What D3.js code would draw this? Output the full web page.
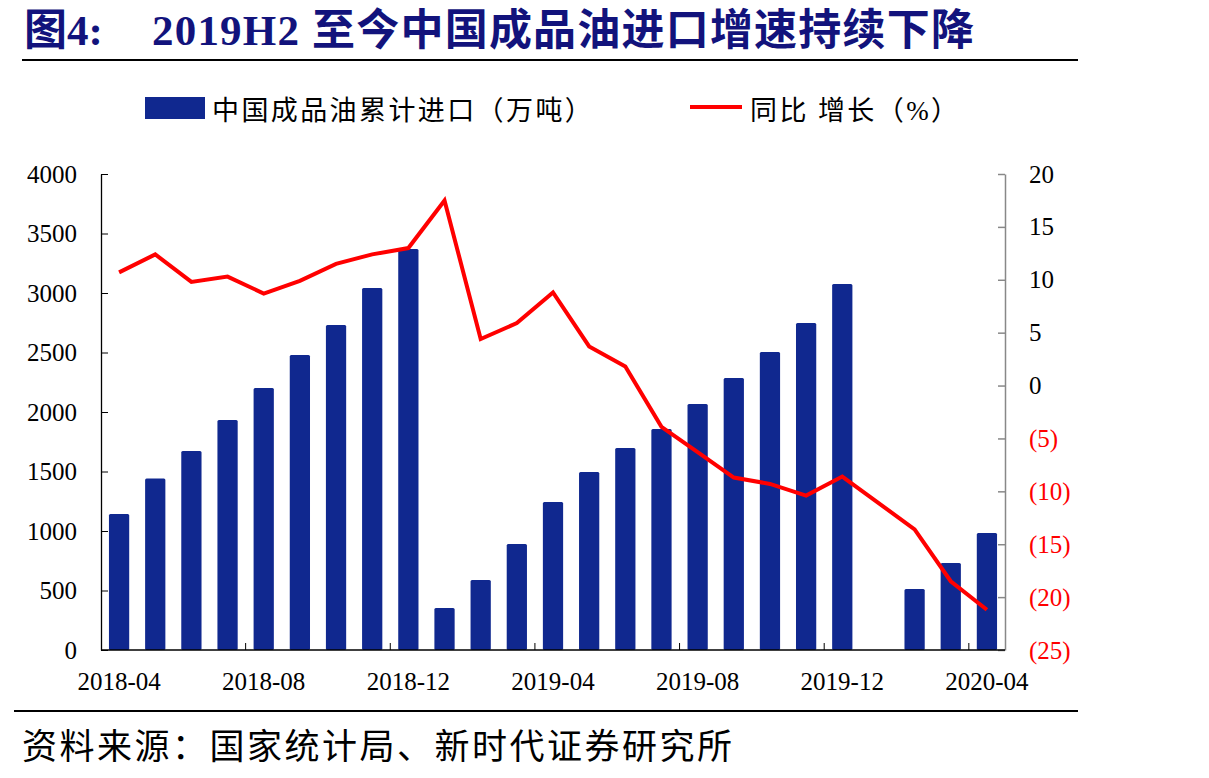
<!DOCTYPE html>
<html>
<head>
<meta charset="utf-8">
<script src="https://cdn.jsdelivr.net/npm/d3@7"></script>
<style>
  body { margin: 0; background: #fff; }
  svg text { font-family: "Liberation Serif", "Noto Sans CJK SC", serif; }
</style>
</head>
<body>
<svg id="chart" width="1209" height="778"></svg>
<script>
// months on the x axis
var months = ["2018-04","2018-05","2018-06","2018-07","2018-08","2018-09","2018-10","2018-11","2018-12",
              "2019-01","2019-02","2019-03","2019-04","2019-05","2019-06","2019-07","2019-08","2019-09",
              "2019-10","2019-11","2019-12","2020-01","2020-02","2020-03","2020-04"];
// cumulative imports (10k tonnes)
var imports = [1143, 1442, 1672, 1933, 2202, 2479, 2731, 3042, 3370,
               353, 588, 890, 1244, 1496, 1697, 1857, 2067, 2286,
               2504, 2748, 3076, null, 513, 731, 983];
// yoy growth (%)
var growth = [10.7, 12.4, 9.8, 10.3, 8.7, 9.9, 11.5, 12.4, 13.0,
              17.5, 4.4, 5.9, 8.8, 3.7, 1.8, -3.9, -6.3, -8.7,
              -9.3, -10.4, -8.6, null, -13.6, -18.5, -21.2];
var xTickLabels = ["2018-04","2018-08","2018-12","2019-04","2019-08","2019-12","2020-04"];
var leftTicks = [0, 500, 1000, 1500, 2000, 2500, 3000, 3500, 4000];
var rightTicks = [-25, -20, -15, -10, -5, 0, 5, 10, 15, 20];

var svg = d3.select("#chart");
var margin = {top: 174, left: 101, right: 204, bottom: 128};
var W = 1209 - margin.left - margin.right,
    H = 778 - margin.top - margin.bottom;

var x = d3.scaleBand().domain(months).range([0, W]).paddingInner(0.44).paddingOuter(0.22);
var yL = d3.scaleLinear().domain([0, 4000]).range([H, 0]);
var yR = d3.scaleLinear().domain([-25, 20]).range([H, 0]);

// title
var title = svg.append("text").attr("x", 24).attr("y", 45)
    .style("font-size", "43px").style("font-weight", "bold").attr("fill", "#12137c");
title.append("tspan").text("图4:");
title.append("tspan").attr("x", 152).style("letter-spacing", "1.2px").text("2019H2 至今中国成品油进口增速持续下降");

svg.append("line").attr("x1", 22).attr("x2", 1078).attr("y1", 60).attr("y2", 60)
    .attr("stroke", "#000").attr("stroke-width", 2);
svg.append("line").attr("x1", 14).attr("x2", 1078).attr("y1", 711).attr("y2", 711)
    .attr("stroke", "#000").attr("stroke-width", 2);

// legend
var leg = svg.append("g");
leg.append("rect").attr("x", 145).attr("y", 97).attr("width", 60).attr("height", 22).attr("fill", "#10288f");
leg.append("text").attr("x", 212).attr("y", 120).style("font-size", "27px").style("letter-spacing", "2.4px")
    .text("中国成品油累计进口（万吨）");
leg.append("line").attr("x1", 690).attr("x2", 742).attr("y1", 107).attr("y2", 107)
    .attr("stroke", "#ff0000").attr("stroke-width", 4);
leg.append("text").attr("x", 750).attr("y", 120).style("font-size", "27px").style("letter-spacing", "2.4px")
    .text("同比 增长（%）");

// source
svg.append("text").attr("x", 22).attr("y", 759).style("font-size", "35px").style("letter-spacing", "2.5px")
    .text("资料来源：国家统计局、新时代证券研究所");

var g = svg.append("g").attr("transform", "translate(" + margin.left + "," + margin.top + ")");

// bars
g.selectAll(".bar")
    .data(months.map(function(m, i) { return {m: m, v: imports[i]}; }).filter(function(d) { return d.v != null; }))
    .enter().append("rect")
    .attr("class", "bar")
    .attr("x", function(d) { return x(d.m); })
    .attr("y", function(d) { return yL(d.v); })
    .attr("width", x.bandwidth())
    .attr("height", function(d) { return H - yL(d.v); })
    .attr("rx", 1.5)
    .attr("fill", "#10288f");

// line (gap month skipped, line connects across)
var lineData = months.map(function(m, i) { return {m: m, v: growth[i]}; }).filter(function(d) { return d.v != null; });
var line = d3.line()
    .x(function(d) { return x(d.m) + x.bandwidth() / 2; })
    .y(function(d) { return yR(d.v); });
g.append("path").datum(lineData)
    .attr("d", line)
    .attr("fill", "none")
    .attr("stroke", "#ff0000")
    .attr("stroke-width", 4)
    .attr("stroke-linejoin", "miter");

// left axis
var axL = g.append("g").call(d3.axisLeft(yL).tickValues(leftTicks).tickFormat(d3.format("d"))
    .tickSizeInner(-7).tickSizeOuter(0).tickPadding(24));
axL.select(".domain").attr("stroke", "#000").attr("stroke-width", 1.3);
axL.selectAll(".tick line").attr("stroke", "#000");
axL.selectAll("text").style("font-size", "25px").attr("fill", "#000")
    .style("font-family", "Liberation Serif");

// right axis
var fmtR = function(d) { return d < 0 ? "(" + (-d) + ")" : String(d); };
var axR = g.append("g").attr("transform", "translate(" + W + ",0)")
    .call(d3.axisRight(yR).tickValues(rightTicks).tickFormat(fmtR).tickSizeInner(-7).tickSizeOuter(0).tickPadding(24));
axR.select(".domain").attr("stroke", "#888").attr("stroke-width", 1.5);
axR.selectAll(".tick line").attr("stroke", "#888").attr("stroke-width", 1.5);
axR.selectAll("text").style("font-size", "25px").style("font-family", "Liberation Serif")
    .attr("fill", function(d) { return d < 0 ? "#ff0000" : "#000"; });

// bottom axis
var axB = g.append("g").attr("transform", "translate(0," + H + ")");
axB.append("line").attr("x1", 0).attr("x2", W).attr("stroke", "#000").attr("stroke-width", 1.3);
var step = x.step();
axB.selectAll(".xtick")
    .data(xTickLabels.slice(1))
    .enter().append("line")
    .attr("x1", function(d) { return x(d) - (step - x.bandwidth()) / 2; })
    .attr("x2", function(d) { return x(d) - (step - x.bandwidth()) / 2; })
    .attr("y1", 0).attr("y2", -7)
    .attr("stroke", "#000");
axB.selectAll(".xlab")
    .data(xTickLabels)
    .enter().append("text")
    .attr("x", function(d) { return x(d) + x.bandwidth() / 2; })
    .attr("y", 40)
    .attr("text-anchor", "middle")
    .style("font-size", "25px")
    .text(function(d) { return d; });
</script>
</body>
</html>
